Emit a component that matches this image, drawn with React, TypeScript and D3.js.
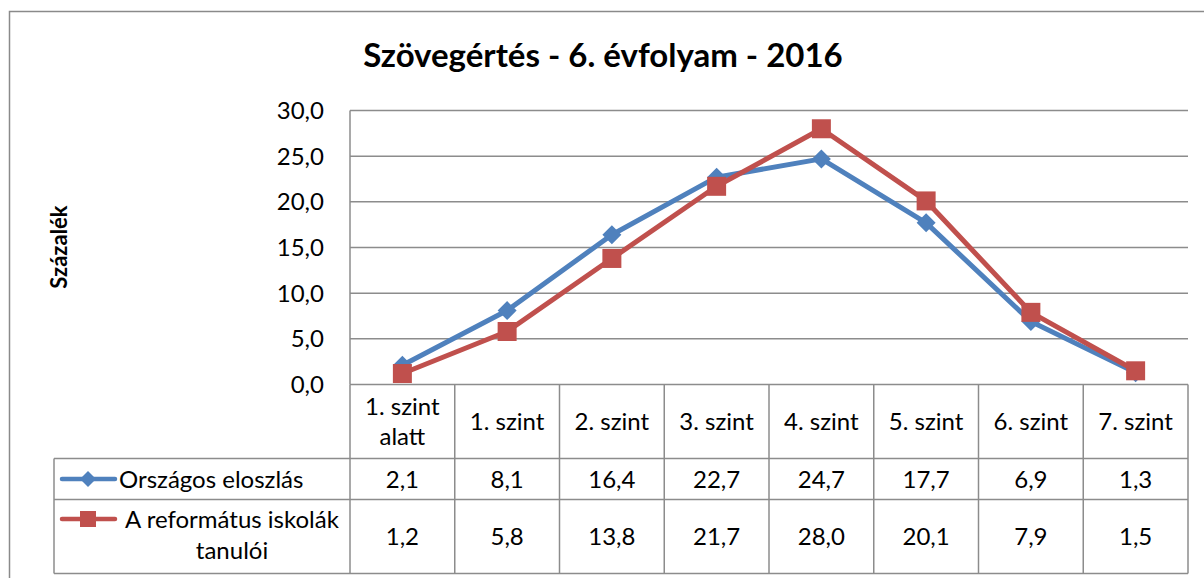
import React from "react";
import * as d3 from "d3";

const categories = ["1. szint alatt", "1. szint", "2. szint", "3. szint", "4. szint", "5. szint", "6. szint", "7. szint"];
const categoryLines = [["1. szint", "alatt"], ["1. szint"], ["2. szint"], ["3. szint"], ["4. szint"], ["5. szint"], ["6. szint"], ["7. szint"]];
const orszagos = [2.1, 8.1, 16.4, 22.7, 24.7, 17.7, 6.9, 1.3];
const reformatus = [1.2, 5.8, 13.8, 21.7, 28.0, 20.1, 7.9, 1.5];
const yTicks = [0, 5, 10, 15, 20, 25, 30];
const seriesNames = [["Országos eloszlás"], ["A református iskolák", "tanulói"]];

const W = 1204;
const H = 578;
const FONT = "Lato, 'Open Sans', sans-serif";
const BLUE = "#4F81BD";
const RED = "#C0504D";
const GRID = "#8C8C8C";

export default function App() {
  const left = 350, right = 1188, top = 110.5, bottom = 384.5;
  const x = d3.scaleBand<string>().domain(categories).range([left, right]);
  const y = d3.scaleLinear().domain([0, 30]).range([bottom, top]);
  const cx = (c: string) => (x(c) as number) + x.bandwidth() / 2;
  const line = d3.line<number>().x((_, i) => cx(categories[i])).y((d) => y(d));
  const fmt = (v: number) => d3.format(".1f")(v).replace(".", ",");

  const headerBottom = 458.5;
  const row1Bottom = 499.5;
  const row2Bottom = 573.5;
  const legendLeft = 54;
  const fs = 24;

  const diamond = (r: number) => `M0,${-r}L${r},0L0,${r}L${-r},0Z`;
  const square = (s: number) => `M${-s / 2},${-s / 2}h${s}v${s}h${-s}Z`;

  return (
    <svg width={W} height={H} style={{ position: "absolute", left: 0, top: 0, background: "#fff" }}>
      <rect x={0} y={0} width={W} height={H} fill="#fff" />
      <path d={`M9.5,${H} V11.5 H${W}`} fill="none" stroke="#8A8A8A" strokeWidth={1.5} />
      <text x={603} y={67} textAnchor="middle" fontFamily={FONT} fontWeight={700} fontSize={33} fill="#000">
        Szövegértés - 6. évfolyam - 2016
      </text>
      <text transform={`translate(67,247) rotate(-90)`} textAnchor="middle" fontFamily={FONT} fontWeight={700} fontSize={22} fill="#000">
        Százalék
      </text>
      {yTicks.map((t) => (
        <line key={t} x1={left} x2={right} y1={y(t)} y2={y(t)} stroke={GRID} strokeWidth={1.5} />
      ))}
      <line x1={left} x2={left} y1={top} y2={bottom} stroke={GRID} strokeWidth={1.5} />
      {yTicks.map((t) => (
        <text key={"l" + t} x={324} y={y(t)} dy="0.36em" textAnchor="end" fontFamily={FONT} fontSize={fs} fill="#000">
          {fmt(t)}
        </text>
      ))}
      <g stroke={GRID} strokeWidth={1.5} fill="none">
        {categories.map((c) => (
          <line key={c} x1={x(c)} x2={x(c)} y1={bottom} y2={row2Bottom} />
        ))}
        <line x1={right} x2={right} y1={bottom} y2={row2Bottom} />
        <line x1={legendLeft} x2={right} y1={headerBottom} y2={headerBottom} />
        <line x1={legendLeft} x2={right} y1={row1Bottom} y2={row1Bottom} />
        <line x1={legendLeft} x2={right} y1={row2Bottom} y2={row2Bottom} />
        <line x1={legendLeft} x2={legendLeft} y1={headerBottom} y2={row2Bottom} />
      </g>
      {categories.map((c, i) => {
        const lines = categoryLines[i];
        const mid = (bottom + headerBottom) / 2;
        const lh = 30;
        return (
          <text key={"h" + c} textAnchor="middle" fontFamily={FONT} fontSize={fs} fill="#000">
            {lines.map((l, j) => (
              <tspan key={j} x={cx(c)} y={mid + (j - (lines.length - 1) / 2) * lh} dy="0.36em">
                {l}
              </tspan>
            ))}
          </text>
        );
      })}
      {[orszagos, reformatus].map((vals, r) => {
        const mid = r === 0 ? (headerBottom + row1Bottom) / 2 : (row1Bottom + row2Bottom) / 2;
        return vals.map((v, i) => (
          <text key={`v${r}-${i}`} x={cx(categories[i])} y={mid} dy="0.36em" textAnchor="middle" fontFamily={FONT} fontSize={fs} fill="#000">
            {fmt(v)}
          </text>
        ));
      })}
      <g>
        <line x1={62} x2={115} y1={(headerBottom + row1Bottom) / 2} y2={(headerBottom + row1Bottom) / 2} stroke={BLUE} strokeWidth={4.5} strokeLinecap="round" />
        <path d={diamond(8)} transform={`translate(88,${(headerBottom + row1Bottom) / 2})`} fill={BLUE} />
        <text x={119} y={(headerBottom + row1Bottom) / 2} dy="0.36em" fontFamily={FONT} fontSize={fs} fill="#000">
          {seriesNames[0][0]}
        </text>
        <line x1={62} x2={115} y1={519} y2={519} stroke={RED} strokeWidth={4.5} strokeLinecap="round" />
        <path d={square(16)} transform={`translate(88,519)`} fill={RED} />
        <text textAnchor="middle" fontFamily={FONT} fontSize={fs} fill="#000">
          <tspan x={232} y={519} dy="0.36em">{seriesNames[1][0]}</tspan>
          <tspan x={232} y={550} dy="0.36em">{seriesNames[1][1]}</tspan>
        </text>
      </g>
      <path d={line(orszagos) as string} fill="none" stroke={BLUE} strokeWidth={5} strokeLinejoin="round" />
      {orszagos.map((v, i) => (
        <path key={"d" + i} d={diamond(9.5)} transform={`translate(${cx(categories[i])},${y(v)})`} fill={BLUE} />
      ))}
      <path d={line(reformatus) as string} fill="none" stroke={RED} strokeWidth={5} strokeLinejoin="round" />
      {reformatus.map((v, i) => (
        <path key={"s" + i} d={square(19)} transform={`translate(${cx(categories[i])},${y(v)})`} fill={RED} />
      ))}
    </svg>
  );
}
